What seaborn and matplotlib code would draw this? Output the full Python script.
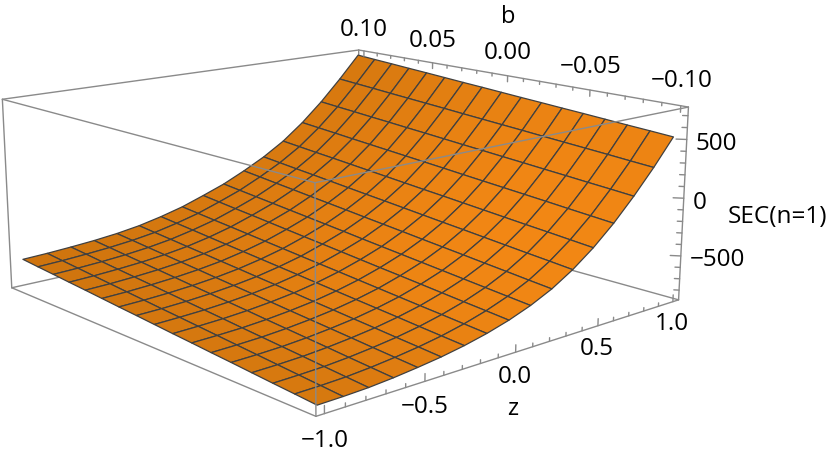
import numpy as np
import matplotlib
matplotlib.use("Agg")
import matplotlib.pyplot as plt
import seaborn as sns
from mpl_toolkits.mplot3d import proj3d

z_nodes = [-1.0, -0.875, -0.75, -0.625, -0.5, -0.375, -0.25, -0.125, 0.0, 0.125, 0.25, 0.375, 0.5, 0.625, 0.75, 0.875, 1.0]
b_nodes = [-0.1, -0.0875, -0.075, -0.0625, -0.05, -0.0375, -0.025, -0.0125, 0.0, 0.0125, 0.025, 0.0375, 0.05, 0.0625, 0.075, 0.0875, 0.1]

sec_rows = [
    [-846, -843, -836, -821, -800, -775, -742, -700, -647, -580, -495, -385, -250, -90, 95, 298, 520],
    [-832, -829, -822, -807, -786, -760, -727, -684, -630, -563, -478, -368, -234, -75, 110, 312, 534],
    [-819, -815, -808, -793, -772, -746, -712, -668, -614, -546, -460, -352, -218, -60, 124, 327, 547],
    [-805, -801, -793, -778, -757, -731, -696, -653, -597, -529, -443, -335, -203, -44, 139, 341, 561],
    [-791, -787, -779, -764, -743, -717, -681, -637, -580, -512, -425, -318, -187, -29, 153, 355, 575],
    [-778, -773, -765, -750, -729, -702, -666, -621, -563, -495, -408, -301, -171, -14, 168, 369, 588],
    [-764, -759, -751, -736, -715, -688, -651, -605, -547, -478, -391, -285, -155, 1, 182, 384, 602],
    [-751, -745, -736, -721, -700, -673, -636, -589, -530, -461, -373, -268, -139, 16, 197, 398, 615],
    [-737, -731, -722, -707, -686, -658, -620, -574, -513, -444, -356, -251, -124, 32, 211, 412, 629],
    [-723, -718, -708, -693, -672, -644, -605, -558, -496, -426, -339, -234, -108, 47, 226, 426, 643],
    [-710, -704, -694, -679, -658, -629, -590, -542, -480, -409, -321, -218, -92, 62, 241, 441, 656],
    [-696, -690, -679, -664, -643, -615, -575, -526, -463, -392, -304, -201, -76, 77, 255, 455, 670],
    [-682, -676, -665, -650, -629, -600, -560, -510, -446, -375, -287, -184, -60, 92, 270, 469, 684],
    [-669, -662, -651, -636, -615, -586, -545, -494, -429, -358, -269, -167, -44, 107, 284, 483, 697],
    [-655, -648, -637, -622, -601, -571, -529, -479, -413, -341, -252, -151, -29, 123, 299, 498, 711],
    [-642, -634, -622, -607, -586, -557, -514, -463, -396, -324, -234, -134, -13, 138, 313, 512, 724],
    [-628, -620, -608, -593, -572, -542, -499, -447, -379, -307, -217, -117, 3, 153, 328, 526, 738],
]

z_ticks = [-1.0, -0.5, 0.0, 0.5, 1.0]
z_labels = ["\u22121.0", "\u22120.5", "0.0", "0.5", "1.0"]
z_minor = [-0.9, -0.8, -0.7, -0.6, -0.4, -0.3, -0.2, -0.1, 0.1, 0.2, 0.3, 0.4, 0.6, 0.7, 0.8, 0.9]
b_ticks = [0.10, 0.05, 0.00, -0.05, -0.10]
b_labels = ["0.10", "0.05", "0.00", "\u22120.05", "\u22120.10"]
b_minor = [0.09, 0.08, 0.07, 0.06, 0.04, 0.03, 0.02, 0.01, -0.01, -0.02, -0.03, -0.04, -0.06, -0.07, -0.08, -0.09]
sec_ticks = [-500, 0, 500]
sec_labels = ["\u2212500", "0", "500"]
sec_minor = [-800, -700, -600, -400, -300, -200, -100, 100, 200, 300, 400, 600, 700]

z_lim = (-1.04, 1.04)
b_lim = (-0.104, 0.104)
sec_lim = (-886, 772)

FONT = "Open Sans"
BOX = "#8a8a8a"

sns.set_theme(style="white")
plt.rcParams["font.family"] = FONT

fig = plt.figure(figsize=(8.3, 4.54), dpi=100)
ax = fig.add_axes([-85 / 830, -172 / 454, 1, 830 / 454], projection="3d")
ax.set_proj_type("persp", focal_length=0.372)
ax.set_box_aspect((1, 1, 0.41), zoom=0.825)
ax.view_init(elev=14, azim=-131.5)
ax.set_xlim(*z_lim)
ax.set_ylim(*b_lim)
ax.set_zlim(*sec_lim)
ax.set_xticks([])
ax.set_yticks([])
ax.set_zticks([])
ax.set_axis_off()
ax.computed_zorder = False

# lighting of the surface, brightest towards the lower right
cmap = sns.blend_palette(["#CA720D", "#F28714"], as_cmap=True)
Z, B = np.meshgrid(z_nodes, b_nodes)
light = np.exp(-((Z - 0.4) / 1.3) ** 2 - ((B + 0.08) / 0.17) ** 2)
ax.plot_surface(Z, B, np.array(sec_rows), facecolors=cmap(light), shade=False,
                edgecolor="#404040", linewidth=0.9, antialiased=True, zorder=2)


def box_line(xs, ys, zs, zorder):
    ax.plot(xs, ys, zs, color=BOX, linewidth=1.0, zorder=zorder)


def tick_text(x, y, z, label, ha="center"):
    # text placed in the projected plane so it stays where the box puts it
    px, py, _ = proj3d.proj_transform(x, y, z, ax.get_proj())
    ax.text2D(px, py, label, transform=ax.transData, ha=ha, va="center", fontsize=17.5, color="black")


x0, x1 = z_lim
y0, y1 = b_lim
s0, s1 = sec_lim
# edges behind the surface
box_line([x0, x1], [y1, y1], [s0, s0], 1)
box_line([x1, x1], [y0, y1], [s0, s0], 1)
box_line([x1, x1], [y1, y1], [s0, s1], 1)
# the rest
box_line([x0, x1], [y0, y0], [s0, s0], 3)
box_line([x0, x0], [y0, y1], [s0, s0], 3)
box_line([x0, x1], [y0, y0], [s1, s1], 3)
box_line([x0, x0], [y0, y1], [s1, s1], 3)
box_line([x0, x1], [y1, y1], [s1, s1], 3)
box_line([x1, x1], [y0, y1], [s1, s1], 3)
box_line([x0, x0], [y0, y0], [s0, s1], 3)
box_line([x0, x0], [y1, y1], [s0, s1], 3)
box_line([x1, x1], [y0, y0], [s0, s1], 3)

# ticks on the three used edges
for ticks, size in ((z_ticks, 60), (z_minor, 30)):
    for t in ticks:
        box_line([t, t], [y0, y0], [s0, s0 + size], 3)
for ticks, size in ((b_ticks, 55), (b_minor, 28)):
    for t in ticks:
        box_line([x1, x1], [t, t], [s1, s1 - size], 3)
for ticks, size in ((sec_ticks, 1.0), (sec_minor, 0.5)):
    for t in ticks:
        box_line([x1, x1 - 0.028 * size], [y0, y0 + 0.0035 * size], [t, t], 3)

for t, lab in zip(z_ticks, z_labels):
    tick_text(t, y0, s0 - 200, lab)
for t, lab in zip(b_ticks, b_labels):
    tick_text(x1, t, s1 + 205, lab)
for t, lab in zip(sec_ticks, sec_labels):
    tick_text(x1 + 0.022, y0 - 0.003, t - 35, lab, ha="left")

fig.text(508 / 830, 1 - 17 / 454, "b", ha="center", va="center", fontsize=17, color="black")
fig.text(513 / 830, 1 - 409 / 454, "z", ha="center", va="center", fontsize=17, color="black")
fig.text(777 / 830, 1 - 217 / 454, "SEC(n=1)", ha="center", va="center", fontsize=17.5, color="black")

fig.savefig("out.png", dpi=100)
